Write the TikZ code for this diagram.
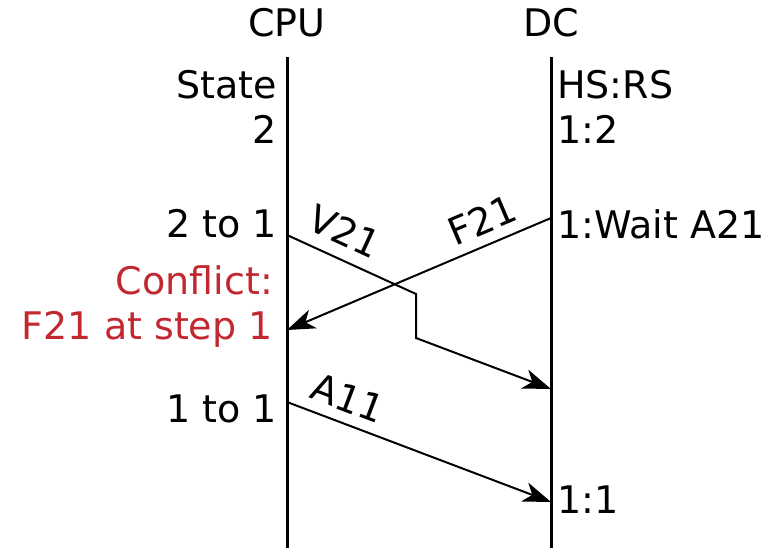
\documentclass[tikz,border=0pt]{standalone}
\usepackage{fontspec}
\setmainfont{DejaVu Sans}
\usepackage{xcolor}
\usetikzlibrary{arrows.meta}
\definecolor{conflictred}{RGB}{194,40,48}

\begin{document}
\begin{tikzpicture}[
  x=1pt, y=-1pt,
  lifeline/.style={line width=3pt},  msg/.style={line width=2pt,-{Stealth[length=28pt,width=20pt,inset=8pt]}},  lbl/.style={inner sep=0pt,font=\fontsize{38}{45}\selectfont},  rlbl/.style={lbl,anchor=east,align=right},  llbl/.style={lbl,anchor=west,align=left}
]
  \useasboundingbox (0,0) rectangle (773,548);
  % lifelines
  \node[lbl] (cpu) at (287,23) {CPU};
  \node[lbl] (dc) at (551,23) {DC};
  \coordinate (cputop) at (287,57);
  \coordinate (cpubot) at (287,548);
  \coordinate (dctop) at (551,57);
  \coordinate (dcbot) at (551,548);
  \draw[lifeline] (cputop) -- (cpubot);
  \draw[lifeline] (dctop) -- (dcbot);
  % states
  \node[rlbl] (cpustate) at (277,107) {State\\2};
  \node[llbl] (dcstate) at (557,107) {HS:RS\\1:2};
  \node[rlbl] (cputwo) at (277,224) {2 to 1};
  \node[llbl] (dcwait) at (557,224) {1:Wait A21};
  \node[rlbl,text=conflictred] (conflict) at (273,307) {Conflict:\\F21 at step 1};
  \node[rlbl] (cpuone) at (277,409) {1 to 1};
  \node[llbl] (dcdone) at (557,500) {1:1};
  % messages
  \coordinate (v0) at (287,235);
  \coordinate (v1) at (416,294);
  \coordinate (v2) at (416,338);
  \coordinate (v3) at (551,389);
  \coordinate (f0) at (551,218);
  \coordinate (f1) at (287,330);
  \coordinate (a0) at (287,402);
  \coordinate (a1) at (551,502);
  \draw[msg] (v0) -- (v1) -- (v2) -- (v3);
  \draw[msg] (f0) -- (f1);
  \draw[msg] (a0) -- (a1);
  \node[lbl,rotate=-24.6] (v21) at (345,231) {V21};
  \node[lbl,rotate=23] (f21) at (482,220) {F21};
  \node[lbl,rotate=-20.7] (a11) at (348,398) {A11};
\end{tikzpicture}
\end{document}
